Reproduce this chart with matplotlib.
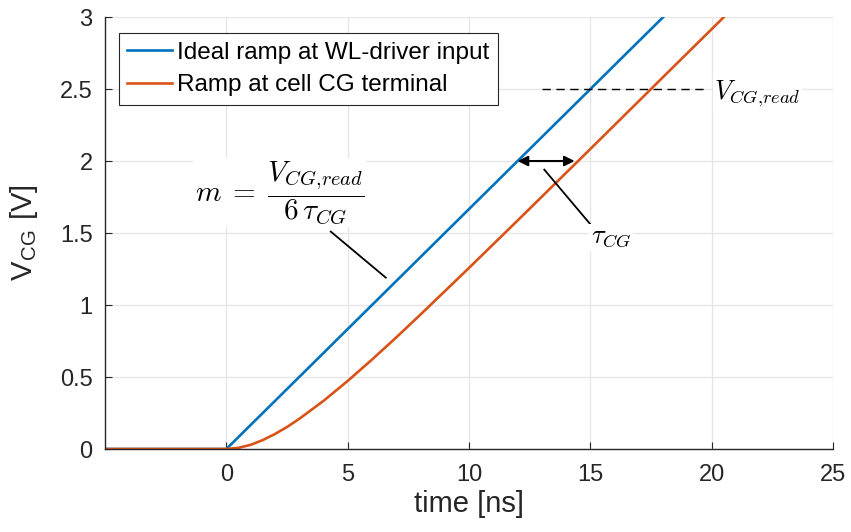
import numpy as np
import matplotlib.pyplot as plt

plt.rcParams['font.family'] = ['Liberation Sans', 'DejaVu Sans']
plt.rcParams['mathtext.fontset'] = 'cm'

# ideal ramp at WL-driver input
t_ideal = [-5, 0, 18]
v_ideal = [0, 0, 3]

# ramp at the cell CG terminal
t_cell = [-5, 0, 0.5, 1, 1.5, 2, 2.5, 3, 4, 5, 6, 7, 8, 10, 12, 15, 18, 20.5]
v_cell = [0, 0, 0.008, 0.029, 0.062, 0.104, 0.153, 0.209, 0.334, 0.473, 0.621,
          0.775, 0.934, 1.258, 1.587, 2.084, 2.584, 3.0]

blue = '#0072BD'
orange = '#D95319'
dark = '#262626'

fig = plt.figure(figsize=(8.51, 5.32), dpi=100)
ax = fig.add_axes([0.1234, 0.156, 0.8556, 0.812])

ax.plot(t_ideal, v_ideal, color=blue, lw=1.9, label='Ideal ramp at WL-driver input')
ax.plot(t_cell, v_cell, color=orange, lw=1.9, label='Ramp at cell CG terminal')

ax.set_xlim(-5, 25)
ax.set_ylim(0, 3)
ax.set_xticks([0, 5, 10, 15, 20, 25])
ax.set_yticks([0, 0.5, 1, 1.5, 2, 2.5, 3])
ax.set_yticklabels(['0', '0.5', '1', '1.5', '2', '2.5', '3'])
ax.grid(True, color='#e6e6e6', lw=1.0)
ax.set_axisbelow(True)
for s in ['top', 'right']:
    ax.spines[s].set_visible(False)
for s in ['left', 'bottom']:
    ax.spines[s].set_color(dark)
    ax.spines[s].set_linewidth(1.0)
ax.tick_params(direction='in', length=5, colors=dark, labelsize=17)
ax.tick_params(axis='x', pad=11)
ax.tick_params(axis='y', pad=9)

ax.set_xlabel('time [ns]', fontsize=21, color=dark, labelpad=3)
ax.set_ylabel(r'V$_{\mathregular{CG}}$ [V]', fontsize=21, color=dark, labelpad=14)

leg = ax.legend(loc='upper left', bbox_to_anchor=(0.019, 0.963), fontsize=17.5,
                fancybox=False, framealpha=1, edgecolor=dark,
                handlelength=1.85, handletextpad=0.2, borderpad=0.35,
                labelspacing=0.45, borderaxespad=0)
leg.get_frame().set_linewidth(0.8)

# V_CG,read marker
ax.plot([13.0, 19.8], [2.5, 2.5], color='black', lw=1.0, ls=(0, (6, 4)))
ax.text(20.1, 2.47, r'$V_{CG{,}read}$', fontsize=19, va='center', ha='left',
        bbox=dict(facecolor='white', edgecolor='none', pad=1))

# tau_CG arrow
ax.annotate('', xy=(12.0, 2.0), xytext=(14.35, 2.0),
            arrowprops=dict(arrowstyle='<|-|>', color='black', lw=1.5,
                            mutation_scale=15, shrinkA=0, shrinkB=0))
ax.plot([13.1, 15.0], [1.94, 1.56], color='black', lw=1.3)
ax.text(15.85, 1.47, r'$\tau_{CG}$', fontsize=19, va='center', ha='center',
        bbox=dict(facecolor='white', edgecolor='none', pad=1))

# slope formula
ax.plot([4.3, 6.57], [1.51, 1.19], color='black', lw=1.3)
ax.text(2.2, 1.78, r'$m\;=\;\dfrac{V_{CG{,}read}}{6\,\tau_{CG}}$', fontsize=21,
        va='center', ha='center',
        bbox=dict(facecolor='white', edgecolor='none', pad=1))

fig.savefig('out.png', dpi=100)
